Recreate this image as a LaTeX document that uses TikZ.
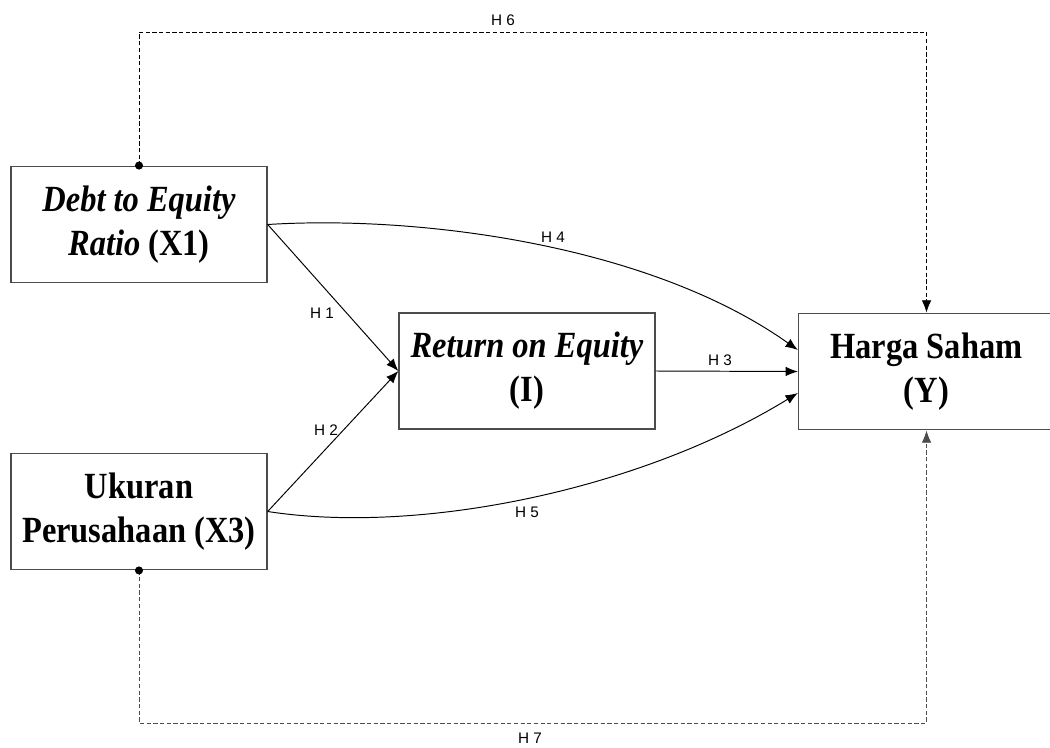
\documentclass[tikz,border=0pt]{standalone}
\usepackage{fontspec}
\setmainfont{Liberation Serif}[FakeStretch=0.88]
\newfontfamily\hfont{Liberation Sans}
\usetikzlibrary{arrows.meta}

\tikzset{
  vartext/.style= {align=center, inner sep=0pt,
                   font=\fontsize{21}{25}\selectfont\bfseries},
  varbox/.style = {vartext, draw=black!70, line width=0.8pt, fill=white,
                   minimum width=5.12cm, minimum height=2.33cm},
  hyp/.style    = {line width=0.55pt, -{Latex[length=7pt,width=5.5pt]}},
  hypdash/.style= {hyp, dash pattern=on 2.4pt off 1.4pt},
  hlabel/.style = {font=\hfont\fontsize{8.7}{10}\selectfont, inner sep=1pt},
  knot/.style   = {circle, fill=black, inner sep=0pt, minimum size=4.6pt}
}

\begin{document}
\begin{tikzpicture}[x=0.02cm, y=-0.02cm]
  \useasboundingbox (0,0) rectangle (1050,747);

  % the four variables
  \node[varbox] (X1) at (139,224.5) {\textit{Debt to Equity}\\\textit{Ratio} (X1)};
  \node[varbox] (X3) at (139,511.5) {Ukuran\\Perusahaan (X3)};
  \node[varbox, minimum height=2.32cm] (I) at (527,371) {\textit{Return on Equity}\\(I)};
  % Y runs past the right edge of the page
  \node[varbox, minimum width=5.44cm] (Y) at (934.5,371.5) {};
  \node[vartext] (Ytext) at (926.5,371.5) {Harga Saham\\(Y)};
  \coordinate (ytop) at (Ytext |- Y.north);
  \coordinate (ybot) at (Ytext |- Y.south);

  % direct paths
  \draw[hyp] (X1.east) -- (I.west);
  \draw[hyp] (X3.east) -- (I.west);
  \draw[hyp] (I.east) -- (Y.west);
  \draw[hyp] (X1.east) .. controls (420,215) and (650,245) .. ([yshift=0.43cm]Y.west);
  \draw[hyp] (X3.east) .. controls (420,535) and (640,490) .. ([yshift=-0.43cm]Y.west);

  % outer dashed paths
  \coordinate (top) at (530,32);
  \coordinate (bot) at (530,723);
  \draw[hypdash] (X1.north) |- (top) -| (ytop);
  \draw[hypdash, black!70] (X3.south) |- (bot) -| (ybot);
  \node[knot] (k1) at (X1.north) {};
  \node[knot] (k3) at (X3.south) {};

  % hypothesis labels
  \node[hlabel] (h1) at (322,313) {H 1};
  \node[hlabel] (h2) at (326,430) {H 2};
  \node[hlabel] (h3) at (720,360) {H 3};
  \node[hlabel] (h4) at (553,237) {H 4};
  \node[hlabel] (h5) at (527,512) {H 5};
  \node[hlabel] (h6) at (503,20) {H 6};
  \node[hlabel] (h7) at (530,738) {H 7};
\end{tikzpicture}
\end{document}
